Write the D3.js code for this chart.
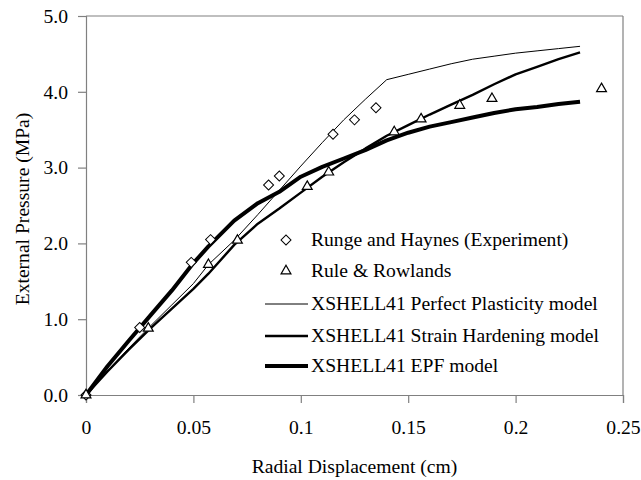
<!DOCTYPE html>
<html>
<head>
<meta charset="utf-8">
<script src="https://cdn.jsdelivr.net/npm/d3@7"></script>
<style>
body{margin:0;background:#fff;}
svg{display:block;}
text{font-family:"Liberation Serif","Times New Roman",serif;fill:#000;}
</style>
</head>
<body>
<svg id="chart" width="641" height="480"></svg>
<script>
// Runge and Haynes (Experiment)
const rungeX = [0, 0.025, 0.049, 0.058, 0.085, 0.090, 0.115, 0.125, 0.135];
const rungeY = [0, 0.89, 1.75, 2.05, 2.77, 2.89, 3.44, 3.63, 3.79];
// Rule & Rowlands
const ruleX = [0, 0.029, 0.057, 0.0705, 0.103, 0.113, 0.1435, 0.156, 0.174, 0.189, 0.240];
const ruleY = [0, 0.88, 1.72, 2.04, 2.75, 2.94, 3.47, 3.64, 3.82, 3.91, 4.04];
// XSHELL41 models
const modelX = [0, 0.01, 0.02, 0.03, 0.04, 0.05, 0.057, 0.069, 0.08, 0.09, 0.1, 0.11, 0.12, 0.13, 0.14, 0.15, 0.16, 0.17, 0.18, 0.19, 0.2, 0.21, 0.22, 0.23];
const perfectY = [0, 0.32, 0.62, 0.91, 1.19, 1.47, 1.72, 2.04, 2.38, 2.70, 3.02, 3.33, 3.63, 3.90, 4.16, 4.23, 4.30, 4.37, 4.43, 4.47, 4.51, 4.54, 4.57, 4.60];
const hardeningY = [0, 0.31, 0.60, 0.88, 1.14, 1.40, 1.60, 1.98, 2.26, 2.46, 2.67, 2.88, 3.07, 3.25, 3.42, 3.56, 3.70, 3.83, 3.96, 4.10, 4.23, 4.33, 4.43, 4.52];
const epfY = [0, 0.38, 0.72, 1.05, 1.38, 1.74, 1.96, 2.30, 2.53, 2.68, 2.88, 3.01, 3.12, 3.23, 3.36, 3.46, 3.54, 3.60, 3.66, 3.72, 3.77, 3.80, 3.84, 3.87];

const xTicks = [0, 0.05, 0.1, 0.15, 0.2, 0.25];
const xTickLabels = ["0", "0.05", "0.1", "0.15", "0.2", "0.25"];
const yTicks = [0, 1, 2, 3, 4, 5];
const yTickLabels = ["0.0", "1.0", "2.0", "3.0", "4.0", "5.0"];
const legendLabels = ["Runge and Haynes (Experiment)", "Rule & Rowlands", "XSHELL41 Perfect Plasticity model", "XSHELL41 Strain Hardening model", "XSHELL41 EPF model"];

const svg = d3.select("#chart");
const L = 86, R = 623, T = 16, B = 395;
const x = d3.scaleLinear().domain([0, 0.25]).range([L, R]);
const y = d3.scaleLinear().domain([0, 5]).range([B, T]);
const grey = "#808080";
const fs = 19.6;

// frame (top & right)
svg.append("line").attr("x1", L).attr("x2", R).attr("y1", T).attr("y2", T).attr("stroke", grey).attr("stroke-width", 1.2);
svg.append("line").attr("x1", R).attr("x2", R).attr("y1", T).attr("y2", B).attr("stroke", grey).attr("stroke-width", 1.2);

// axes
const xAxis = svg.append("g").attr("transform", `translate(0,${B})`)
  .call(d3.axisBottom(x).tickValues(xTicks).tickFormat((d, i) => xTickLabels[i]).tickSize(8).tickPadding(17));
const yAxis = svg.append("g").attr("transform", `translate(${L},0)`)
  .call(d3.axisLeft(y).tickValues(yTicks).tickFormat((d, i) => yTickLabels[i]).tickSize(8).tickPadding(10));
[xAxis, yAxis].forEach(g => {
  g.select(".domain").attr("stroke", grey).attr("stroke-width", 1.2);
  g.selectAll(".tick line").attr("stroke", grey).attr("stroke-width", 1.2);
  g.selectAll(".tick text").attr("font-size", fs).attr("font-family", "Liberation Serif").attr("fill", "#000");
});

// axis titles
svg.append("text").attr("x", (L + R) / 2).attr("y", 473).attr("text-anchor", "middle").attr("font-size", fs).text("Radial Displacement (cm)");
svg.append("text").attr("transform", `translate(29,209) rotate(-90)`).attr("text-anchor", "middle").attr("font-size", fs).text("External Pressure (MPa)");

// model lines
const line = d3.line().x(d => x(d[0])).y(d => y(d[1]));
const models = [
  {ys: perfectY, w: 1},
  {ys: hardeningY, w: 2.4},
  {ys: epfY, w: 4}
];
models.forEach(m => {
  svg.append("path").datum(modelX.map((v, i) => [v, m.ys[i]]))
    .attr("d", line).attr("fill", "none").attr("stroke", "#000").attr("stroke-width", m.w).attr("stroke-linejoin", "round");
});

// markers
const diamond = d3.symbol().type(d3.symbolSquare).size(50);
const tri = d3.symbol().type(d3.symbolTriangle).size(42);
svg.append("g").selectAll("path").data(rungeX.map((v, i) => [v, rungeY[i]])).join("path")
  .attr("d", diamond).attr("transform", d => `translate(${x(d[0])},${y(d[1])}) rotate(45)`)
  .attr("fill", "#fff").attr("stroke", "#000").attr("stroke-width", 1);
svg.append("g").selectAll("path").data(ruleX.map((v, i) => [v, ruleY[i]])).join("path")
  .attr("d", tri).attr("transform", d => `translate(${x(d[0])},${y(d[1])})`)
  .attr("fill", "#fff").attr("stroke", "#000").attr("stroke-width", 1.2);

// legend
const legY = [240, 271, 304, 336, 366];
const lg = svg.append("g");
lg.append("path").attr("d", diamond).attr("transform", `translate(286,${legY[0]}) rotate(45)`).attr("fill", "#fff").attr("stroke", "#000");
lg.append("path").attr("d", tri).attr("transform", `translate(286,${legY[1]})`).attr("fill", "#fff").attr("stroke", "#000").attr("stroke-width", 1.2);
[1, 2.4, 4].forEach((w, i) => {
  lg.append("line").attr("x1", 265).attr("x2", 308).attr("y1", legY[i + 2]).attr("y2", legY[i + 2]).attr("stroke", "#000").attr("stroke-width", w);
});
legendLabels.forEach((t, i) => {
  lg.append("text").attr("x", 311).attr("y", legY[i] + 6).attr("font-size", fs).text(t);
});
</script>
</body>
</html>
